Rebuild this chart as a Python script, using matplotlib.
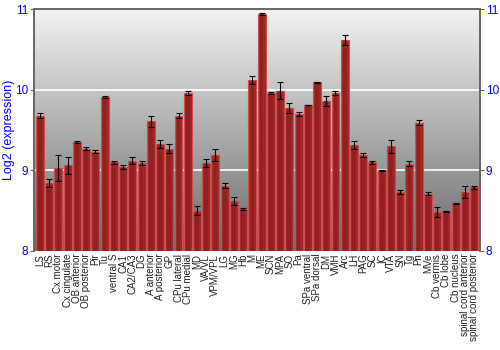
import matplotlib
matplotlib.use("Agg")
import matplotlib.pyplot as plt
import numpy as np

plt.rcParams['font.family'] = ['Liberation Sans', 'DejaVu Sans']

regions = ["LS", "RS", "Cx motor", "Cx cingulate", "OB anterior", "OB posterior",
           "Pir", "Tu", "ventral S", "CA1", "CA2/CA3", "DG", "A anterior",
           "A posterior", "GP", "CPu lateral", "CPu medial", "MD", "VA/VL",
           "VPM/VPL", "LG", "MG", "Hb", "M", "ME", "SCN", "MPA", "SO", "Pa",
           "SPa ventral", "SPa dorsal", "DM", "VMH", "Arc", "LH", "PAG", "SC",
           "IC", "VTA", "SN", "Tg", "Pn", "MVe", "Cb vermis", "Cb lobe",
           "Cb nucleus", "spinal cord anterior", "spinal cord posterior"]
expr = [9.68, 8.84, 9.03, 9.06, 9.35, 9.27, 9.23, 9.91, 9.10, 9.04, 9.12, 9.09,
        9.61, 9.33, 9.27, 9.68, 9.96, 8.50, 9.09, 9.19, 8.81, 8.62, 8.52, 10.12,
        10.94, 9.96, 9.99, 9.77, 9.70, 9.81, 10.09, 9.86, 9.96, 10.62, 9.32,
        9.19, 9.10, 9.00, 9.30, 8.73, 9.08, 9.59, 8.71, 8.48, 8.49, 8.59, 8.73,
        8.79]
err = [0.03, 0.05, 0.16, 0.11, 0.01, 0.02, 0.02, 0.01, 0.02, 0.02, 0.04, 0.03,
       0.07, 0.05, 0.06, 0.03, 0.03, 0.06, 0.05, 0.08, 0.03, 0.05, 0.01, 0.05,
       0.01, 0.01, 0.10, 0.06, 0.02, 0.005, 0.005, 0.06, 0.03, 0.06, 0.05,
       0.02, 0.02, 0.005, 0.08, 0.02, 0.03, 0.03, 0.02, 0.06, 0.01, 0.01,
       0.07, 0.02]
yticks = [8, 9, 10, 11]

fig = plt.figure(figsize=(5, 3.5), dpi=100)
ax = fig.add_axes([0.068, 0.283, 0.892, 0.691])
x = np.arange(len(regions))
xlim = (-0.65, len(regions) - 0.35)

# grey vertical gradient background, light at top
grad = np.linspace(0, 1, 256).reshape(-1, 1)
cmap = matplotlib.colors.LinearSegmentedColormap.from_list("bg", ["#f2f2f2", "#6a6a6a"])
ax.imshow(grad, aspect="auto", cmap=cmap, origin="upper",
          extent=[xlim[0], xlim[1], 8, 11], zorder=0)
for yv in (9, 10):
    ax.axhline(yv, color="white", lw=1.2, zorder=1)

ax.bar(x, np.array(expr) - 8, bottom=8, width=0.86, color="#a02828",
       edgecolor="#c85050", linewidth=0.8, zorder=2)
ax.bar(x, np.array(expr) - 8, bottom=8, width=0.4, color="#8a1c1c",
       linewidth=0, zorder=2, alpha=0.6)
ax.errorbar(x, expr, yerr=err, fmt="none", ecolor="black", elinewidth=0.8,
            capsize=2, capthick=0.8, zorder=3)

ax.set_xlim(*xlim)
ax.set_ylim(8, 11)
ax.set_xticks(x)
ax.set_xticklabels(regions, rotation=90, fontsize=7, color="#222222")
ax.tick_params(axis="x", length=0, pad=2)
ax.set_yticks(yticks)
ax.tick_params(axis="y", colors="#666666", labelcolor="blue", labelsize=8.5,
               length=3, pad=1, direction="out")
ax.set_ylabel("Log2 (expression)", color="blue", fontsize=9)
ax.yaxis.set_label_coords(-0.043, 0.5)

ax2 = ax.twinx()
ax2.set_ylim(8, 11)
ax2.set_yticks(yticks)
ax2.tick_params(axis="y", colors="#666666", labelcolor="blue", labelsize=8.5,
                length=3, pad=1, direction="out")
for a in (ax, ax2):
    for side in ("left", "right", "top"):
        a.spines[side].set_color("#666666")
        a.spines[side].set_linewidth(1.2)
    a.spines["bottom"].set_visible(False)

fig.savefig("out.png", dpi=100)
